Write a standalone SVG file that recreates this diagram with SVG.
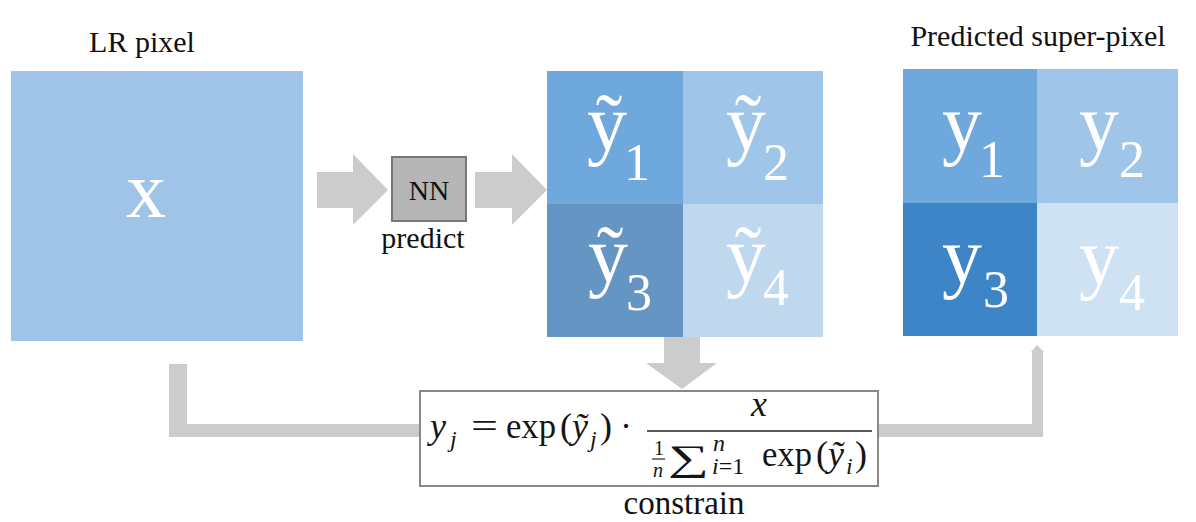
<svg xmlns="http://www.w3.org/2000/svg" width="1196" height="522" viewBox="0 0 1196 522">
<style>
text{font-family:"Liberation Serif","Times New Roman",Tinos,"DejaVu Serif","Noto Serif",FreeSerif,serif;}
.lbl{font-size:30px;fill:#111;}
.big{font-size:80px;fill:#fff;}
.sub{font-size:52px;fill:#fff;}
.m{font-size:36px;fill:#151515;}
.ms{font-size:24px;fill:#151515;}
.it{font-style:italic;}
.conn{fill:#cccccc;}
</style>
<rect width="1196" height="522" fill="#ffffff"/>

<g id="connectors">
  <polygon class="conn" points="317,172 353,172 353,154 388,190 353,225 353,208 317,208"/>
  <polygon class="conn" points="475,172 512,172 512,154 547,190 512,225 512,208 475,208"/>
  <polygon class="conn" points="664,337 700,337 700,363 717,363 682,389 646,363 664,363"/>
  <polygon class="conn" points="169,364 187,364 187,424 419,424 419,437 169,437"/>
  <polygon class="conn" points="878,424 1032,424 1032,352 1031,352 1037,345 1044,352 1043,352 1043,437 878,437"/>
</g>

<g id="lr-pixel">
  <text class="lbl" x="142" y="52" text-anchor="middle" font-family="Liberation Serif, serif">LR pixel</text>
  <rect x="11" y="71" width="292" height="270" fill="#a0c4e8"/>
  <text class="big" x="146" y="217" text-anchor="middle">x</text>
</g>

<g id="nn">
  <rect x="392" y="157" width="74" height="64" fill="#b5b5b5" stroke="#777777" stroke-width="2"/>
  <text class="lbl" x="429" y="200" text-anchor="middle" style="font-size:28px">NN</text>
  <text class="lbl" x="423" y="248" text-anchor="middle">predict</text>
</g>

<g id="pred-raw">
  <rect x="547" y="71" width="136" height="133" fill="#6fa8dc"/>
  <rect x="683" y="71" width="140" height="133" fill="#9fc5e8"/>
  <rect x="547" y="204" width="136" height="133" fill="#6495c3"/>
  <rect x="683" y="204" width="140" height="133" fill="#bfd8ee"/>
  <text class="big" x="587" y="150">ỹ</text><text class="sub" x="624" y="180">1</text>
  <text class="big" x="726" y="150">ỹ</text><text class="sub" x="763" y="180">2</text>
  <text class="big" x="588" y="282">ỹ</text><text class="sub" x="626" y="310">3</text>
  <text class="big" x="726" y="282">ỹ</text><text class="sub" x="763" y="305">4</text>
</g>

<g id="super-pixel">
  <text class="lbl" x="1038" y="46" text-anchor="middle">Predicted super-pixel</text>
  <rect x="903" y="69" width="134" height="134" fill="#6fa8dc"/>
  <rect x="1037" y="69" width="141" height="134" fill="#9fc5e8"/>
  <rect x="903" y="203" width="134" height="133" fill="#3d85c6"/>
  <rect x="1037" y="203" width="141" height="133" fill="#cfe2f3"/>
  <text class="big" x="942" y="150">y</text><text class="sub" x="979" y="177">1</text>
  <text class="big" x="1079" y="150">y</text><text class="sub" x="1119" y="177">2</text>
  <text class="big" x="942" y="283">y</text><text class="sub" x="983" y="307">3</text>
  <text class="big" x="1079" y="284">y</text><text class="sub" x="1119" y="310">4</text>
</g>

<g id="constrain">
  <rect x="420" y="391" width="458" height="95" fill="#ffffff" stroke="#888888" stroke-width="2"/>
  <text class="m it" x="430" y="438">y</text>
  <text class="ms it" x="450" y="447">j</text>
  <text class="m" x="471" y="438" textLength="27" lengthAdjust="spacingAndGlyphs">=</text>
  <text class="m" x="506" y="438" textLength="50" lengthAdjust="spacingAndGlyphs">exp</text>
  <text class="m" x="560" y="438">(</text>
  <text class="m it" x="572" y="438">ỹ</text>
  <text class="ms it" x="590" y="447">j</text>
  <text class="m" x="600" y="438">)</text>
  <text class="m" x="620" y="438">·</text>
  <line x1="647" y1="431" x2="872" y2="431" stroke="#222222" stroke-width="1.6"/>
  <text class="m it" x="751" y="416">x</text>
  <text class="ms" x="654" y="455" style="font-size:20px">1</text>
  <line x1="652" y1="459" x2="665" y2="459" stroke="#222222" stroke-width="1.2"/>
  <text class="ms it" x="653" y="477" style="font-size:20px">n</text>
  <text class="m" x="668" y="470" textLength="41" lengthAdjust="spacingAndGlyphs">∑</text>
  <text class="ms it" x="713" y="451">n</text>
  <text class="ms" x="712" y="474"><tspan class="it">i</tspan>=1</text>
  <text class="m" x="762" y="466" textLength="50" lengthAdjust="spacingAndGlyphs">exp</text>
  <text class="m" x="816" y="466">(</text>
  <text class="m it" x="828" y="466">ỹ</text>
  <text class="ms it" x="846" y="474">i</text>
  <text class="m" x="855" y="466">)</text>
  <text class="lbl" x="684" y="514" text-anchor="middle" style="font-size:33px">constrain</text>
</g>
</svg>
